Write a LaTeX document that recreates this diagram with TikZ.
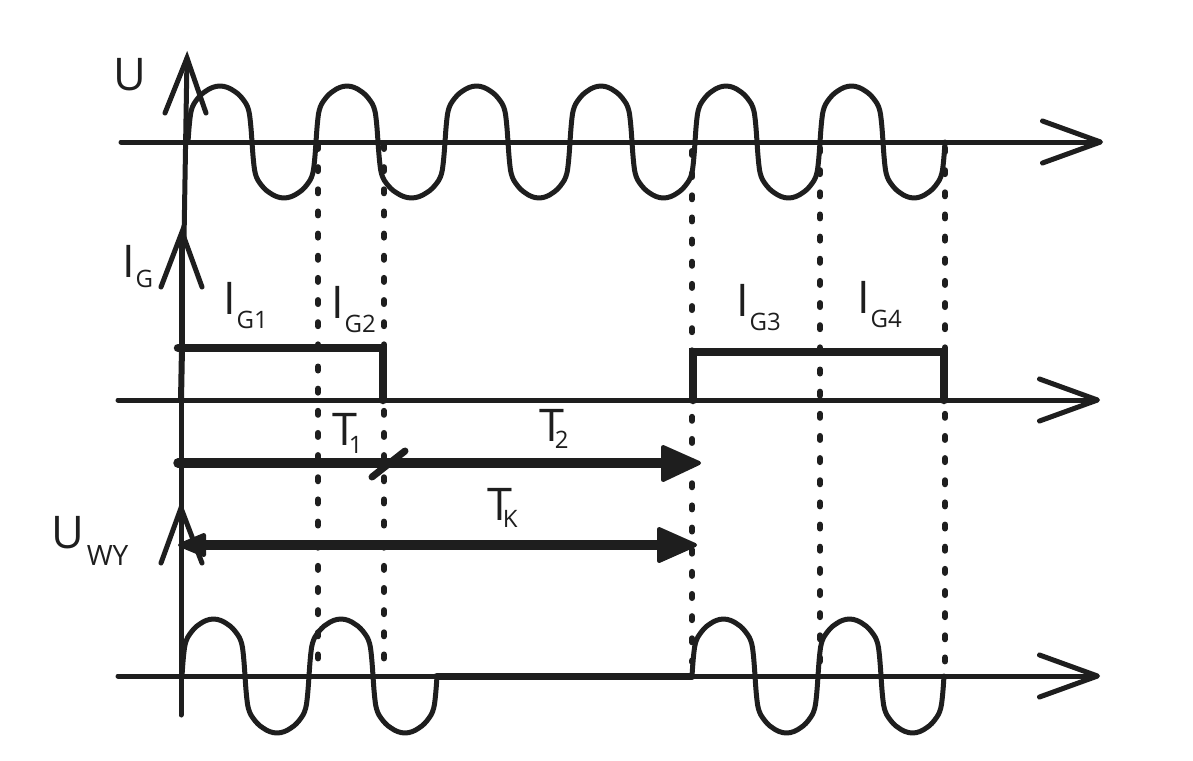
\documentclass[tikz,border=0pt]{standalone}
\usepackage{fontspec}
\setmainfont{Open Sans}
\usetikzlibrary{arrows.meta}
\definecolor{ink}{HTML}{1E1E1E}
\newcommand{\wavelobe}[4]{% x0 x1 base amp
  \draw[wave] ({#1},{#3}) 
  .. controls ({#1+.01*(#2-#1)},{#3-.17*#4}) and ({#1+.02*(#2-#1)},{#3-.34*#4}) .. ({#1+.04*(#2-#1)},{#3-.5*#4})
  .. controls ({#1+.055*(#2-#1)},{#3-.6*#4}) and ({#1+.08*(#2-#1)},{#3-.67*#4}) .. ({#1+.12*(#2-#1)},{#3-.73*#4})
  .. controls ({#1+.17*(#2-#1)},{#3-.81*#4}) and ({#1+.22*(#2-#1)},{#3-.87*#4}) .. ({#1+.28*(#2-#1)},{#3-.91*#4})
  .. controls ({#1+.34*(#2-#1)},{#3-.96*#4}) and ({#1+.42*(#2-#1)},{#3-#4}) .. ({#1+.5*(#2-#1)},{#3-#4})
  .. controls ({#1+.58*(#2-#1)},{#3-#4}) and ({#1+.66*(#2-#1)},{#3-.96*#4}) .. ({#1+.72*(#2-#1)},{#3-.91*#4})
  .. controls ({#1+.78*(#2-#1)},{#3-.87*#4}) and ({#1+.83*(#2-#1)},{#3-.81*#4}) .. ({#1+.88*(#2-#1)},{#3-.73*#4})
  .. controls ({#1+.92*(#2-#1)},{#3-.67*#4}) and ({#1+.945*(#2-#1)},{#3-.6*#4}) .. ({#1+.96*(#2-#1)},{#3-.5*#4})
  .. controls ({#1+.98*(#2-#1)},{#3-.34*#4}) and ({#1+.99*(#2-#1)},{#3-.17*#4}) .. ({#2},{#3});}
\newcommand{\bigsub}[4]{{\fontsize{45}{45}\selectfont #1}\kern#2pt\raisebox{-#3pt}{\fontsize{24}{24}\selectfont #4}}
\tikzset{
  x=1pt,y=-1pt,
  wave/.style={draw=ink,line width=5pt,line cap=round,line join=round},
  axisline/.style={draw=ink,line width=5pt,line cap=round,-{Straight Barb[length=58pt,width=42pt,line width=5pt,round]}},
  yaxisline/.style={draw=ink,line width=5pt,line cap=round},
  boldline/.style={draw=ink,line width=8.5pt,line cap=round},
  spanarrow/.style={draw=ink,line width=9.5pt},
  solidhead/.style={fill=ink,draw=ink,line width=4pt,line join=round},
  dots/.style={draw=ink,line width=6pt,line cap=round,dash pattern=on 4pt off 18.15pt},
  lab/.style={inner sep=0pt,outer sep=0pt,anchor=base west,text=ink},
}
\begin{document}
\begin{tikzpicture}
\useasboundingbox (0,0) rectangle (1193,760);
\fill[white] (0,0) rectangle (1193,760);
% named end points
\coordinate (a1s) at (121,142); \coordinate (a1e) at (1103,142);
\coordinate (a2s) at (118,400); \coordinate (a2e) at (1100,400);
\coordinate (a3s) at (118,676); \coordinate (a3e) at (1100,676);
\coordinate (vu) at (187,58); \coordinate (vub) at (184,240);
\coordinate (vg) at (182,232); \coordinate (vgm) at (182,348); \coordinate (vg0) at (181,400);
\coordinate (vw) at (181,508); \coordinate (vwb) at (181,715);
% dotted guides
\coordinate (d1a) at (318,145); \coordinate (d1b) at (318,660);
\coordinate (d2a) at (384,145); \coordinate (d2b) at (384,660);
\coordinate (d3a) at (692,151); \coordinate (d3b) at (692,662);
\coordinate (d4a) at (820,148); \coordinate (d4b) at (820,662);
\coordinate (d5a) at (945,148); \coordinate (d5b) at (945,663);
\foreach \n in {1,...,5} \draw[dots] (d\n a) -- (d\n b);
% axes
\draw[axisline] (a1s) -- (a1e);
\draw[axisline] (a2s) -- (a2e);
\draw[axisline] (a3s) -- (a3e);
% vertical axes
\draw[yaxisline] (vu) -- (vub);
\draw[yaxisline] (165,113) -- (vu) -- (206,113);
\draw[draw=ink,line width=6.5pt] (vg) -- (vgm);
\draw[draw=ink,line width=6pt] (vgm) -- (vg0);
\draw[yaxisline] (161,287) -- (vg) -- (202,287);
\draw[yaxisline] (vg0) -- (vwb);
\draw[yaxisline] (161,563) -- (vw) -- (202,563);
% top wave
\foreach \a/\b/\s in {188/252/1,252/316/-1,316/378/1,378/445/-1,445/508/1,508/570/-1,570/632/1,632/695/-1,695/757/1,757/820/-1,820/883/1,883/945/-1}
  \wavelobe{\a}{\b}{142}{(\s*56)};
% bottom wave
\foreach \a/\b/\s in {182/245/1,245/309/-1,309/373/1,373/437/-1,692/755/1,755/818/-1,818/881/1,881/944/-1}
  \wavelobe{\a}{\b}{676}{(\s*57)};
\coordinate (f1) at (437,676); \coordinate (f2) at (692,676);
\draw[draw=ink,line width=7pt,line cap=round] (f1) -- (f2);
% pulses
\coordinate (p1) at (178,348); \coordinate (p2) at (383,348); \coordinate (p3) at (383,400);
\coordinate (p4) at (693,400); \coordinate (p5) at (693,352); \coordinate (p6) at (944,352); \coordinate (p7) at (944,400);
\draw[boldline,line join=miter] (p1) -- (p2) -- (p3);
\draw[boldline,line join=miter] (p4) -- (p5) -- (p6) -- (p7);
% span arrows
\coordinate (t0) at (178,463); \coordinate (t1) at (664,463);
\coordinate (k0) at (205,545); \coordinate (k1) at (660,545);
\draw[spanarrow,line cap=round] (t0) -- (t1);
\draw[solidhead] (699,463) -- (663,447) -- (663,480) -- cycle;
\draw[spanarrow] (k0) -- (k1);
\draw[solidhead] (695,545) -- (659,529) -- (659,561) -- cycle;
\draw[solidhead] (180,545) -- (204,535) -- (204,555) -- cycle;
\coordinate (s0) at (372,477); \coordinate (s1) at (405,451);
\draw[draw=ink,line width=7pt,line cap=round] (s0) -- (s1);
% labels
\node[lab,font=\fontsize{45}{45}\selectfont] (lu) at (113,90) {U};
\node[lab] (lg) at (122,277) {\bigsub{I}{1}{10}{G}};
\node[lab] (lg1) at (223,314) {\bigsub{I}{1}{14}{G1}};
\node[lab] (lg2) at (331,318) {\bigsub{I}{1}{14}{G2}};
\node[lab] (lg3) at (736,316) {\bigsub{I}{1}{14}{G3}};
\node[lab] (lg4) at (857,313) {\bigsub{I}{1}{14}{G4}};
\node[lab] (lt1) at (332,445) {\bigsub{T}{-8}{8}{1}};
\node[lab] (lt2) at (539,441) {\bigsub{T}{-9}{7}{2}};
\node[lab] (ltk) at (487,520) {\bigsub{T}{-9}{7}{K}};
\node[lab] (lw) at (51,548) {{\fontsize{45}{45}\selectfont U}\kern3pt\raisebox{-17pt}{\fontsize{28}{28}\selectfont WY}};
\end{tikzpicture}
\end{document}
